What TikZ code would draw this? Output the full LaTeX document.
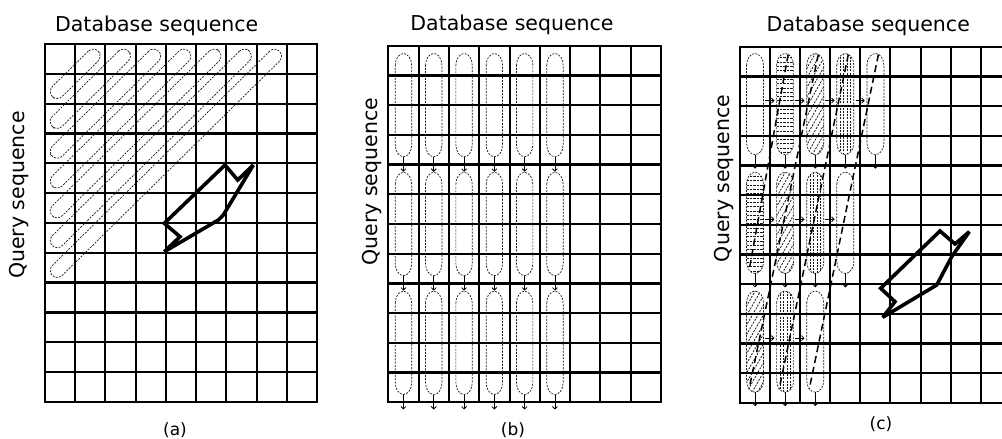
\documentclass[tikz,border=0pt]{standalone}
\usepackage{fontspec}
\setmainfont{DejaVu Sans}
\usetikzlibrary{arrows.meta,calc}
\newcommand{\mygrid}[4]{%
  \foreach \i in {0,...,9} \draw[gridv] ({#1+\i*#3},#2) -- ({#1+\i*#3},{#2+12*#4});
  \foreach \j in {0,...,12} \draw[gridh] (#1,{#2+\j*#4}) -- ({#1+9*#3},{#2+\j*#4});
}
% capsule outline around a named node: #1 node, #2 half width, #3 cap height
\newcommand{\capsoutline}[3]{([xshift=-#2,yshift=-#3]#1.north) arc[start angle=180,end angle=0,x radius=#2,y radius=#3]
  -- ([xshift=#2,yshift=#3]#1.south) arc[start angle=0,end angle=-180,x radius=#2,y radius=#3] -- cycle}
\begin{document}
\begin{tikzpicture}[x=1pt,y=-1pt,
  gridh/.style={line width=2.3pt, line cap=rect},
  gridv/.style={line width=2pt, line cap=rect},
  title/.style={font=\fontsize{20.5}{24}\selectfont, anchor=base, inner sep=0pt},
  qlabel/.style={font=\fontsize{20.5}{24}\selectfont, rotate=90, inner sep=0pt},
  sublabel/.style={font=\fontsize{17}{20}\selectfont, inner sep=0pt},
  thindash/.style={draw=black!90, line width=0.7pt, dash pattern=on 2pt off 1.3pt},
  capsA/.style={thindash, rounded corners=7pt, minimum height=14pt, inner sep=0pt, rotate=44.6},
  slotB/.style={inner sep=0pt, minimum width=16.4pt, minimum height=102.9pt},
  slotC/.style={inner sep=0pt, minimum width=17pt, minimum height=100.8pt},
  arr/.style={line width=0.8pt, -{Straight Barb[length=2.5pt,width=5pt]}},
  poly/.style={line width=3.6pt, line join=miter, miter limit=2.2},
  longdash/.style={line width=1.5pt, dash pattern=on 7pt off 4pt},
  pnone/.style={},
  phor/.style={path picture={\foreach \j in {1,...,24}{\draw[line width=0.7pt, dash pattern=on 2.4pt off 1pt] ([yshift=-\j*4.3pt]path picture bounding box.north west) -- ([yshift=-\j*4.3pt]path picture bounding box.north east);}}},
  pdiag/.style={path picture={\foreach \j in {-14,...,4}{\draw[line width=0.8pt] ([xshift=\j*5.5pt]path picture bounding box.south west) -- ([xshift=\j*5.5pt+62pt, yshift=108pt]path picture bounding box.south west);}}},
  pvert/.style={path picture={\foreach \j in {1,...,4}{\draw[line width=0.6pt, dash pattern=on 2pt off 1.2pt] ([xshift=\j*3.4pt]path picture bounding box.north west) -- ([xshift=\j*3.4pt]path picture bounding box.south west);}}}
]
\useasboundingbox (0,0) rectangle (1002,439);
\fill[white] (0,0) rectangle (1002,439);
\clip (0,0) rectangle (1002,439);

% ---------- panel (a) ----------
\mygrid{45}{44}{30.22}{29.83}
\foreach \k in {1,...,7}{
  \pgfmathsetmacro{\mx}{60.11+\k*15.11}
  \pgfmathsetmacro{\my}{58.92+\k*14.915}
  \pgfmathsetmacro{\len}{\k*42.46+22}
  \node[capsA, minimum width=\len pt] (ca\k) at (\mx,\my) {};
}
\draw[poly] (225,165) -- (237.7,180) -- (253.3,165) -- (223.3,215) -- (218.3,220)
  -- (164.3,251.7) -- (180,236.7) -- (164.3,223.3) -- cycle;
\node[title] (ta) at (156.7,31.7) {Database sequence};
\node[qlabel] (qa) at (19.5,195) {Query sequence};
\node[sublabel] (la) at (175,430.5) {(a)};

% ---------- panel (b) ----------
\mygrid{388.3}{45.7}{30.3}{29.72}
\foreach \b in {0,1,2}{
  \foreach \c in {0,...,5}{
    \node[slotB] (cb-\b-\c) at ({403.45+30.3*\c},{105.13+118.87*\b}) {};
    \draw[thindash] \capsoutline{cb-\b-\c}{8.2pt}{12pt};
    \draw[arr] (cb-\b-\c.south) -- ++(0,15);
  }
}
\node[title] (tb) at (512,30.5) {Database sequence};
\node[qlabel] (qb) at (372.5,181.7) {Query sequence};
\node[sublabel] (lb) at (513,430.5) {(b)};

% ---------- panel (c) ----------
\mygrid{740}{46.7}{30.09}{29.69}
\foreach \b/\c/\s in {0/0/pnone,0/1/phor,0/2/pdiag,0/3/pvert,0/4/pnone,
                      1/0/phor,1/1/pdiag,1/2/pvert,1/3/pnone,
                      2/0/pdiag,2/1/pvert,2/2/pnone}{
  \node[slotC] (cc-\b-\c) at ({755.05+30.09*\c},{104.08+118.76*\b}) {};
  \draw[thindash, \s] \capsoutline{cc-\b-\c}{8.5pt}{12pt};
  \draw[arr] (cc-\b-\c.south) -- ++(0,14);
}
\foreach \b/\c/\d in {0/0/1,0/1/2,0/2/3,0/3/4,1/0/1,1/1/2,1/2/3,2/0/1,2/1/2}
  \draw[arr] ([xshift=1.5pt,yshift=3.5pt]cc-\b-\c.east) -- ([xshift=-2pt,yshift=3.5pt]cc-\b-\d.west);
\foreach \t/\u in {0-1/1-0,0-2/2-0,0-3/2-1,0-4/2-2}
  \draw[longdash] ([xshift=3pt,yshift=-1pt]cc-\t.north) -- ([xshift=-6pt,yshift=3pt]cc-\u.south);
\draw[poly] (940,231) -- (955,244) -- (969.3,231.7) -- (951.7,256.7) -- (936.7,285)
  -- (882.7,317.3) -- (895,301.7) -- (880.7,288.3) -- cycle;
\node[title] (tc) at (868.3,31.7) {Database sequence};
\node[qlabel] (qc) at (724,178.3) {Query sequence};
\node[sublabel] (lc) at (881,424.5) {(c)};
\end{tikzpicture}
\end{document}
